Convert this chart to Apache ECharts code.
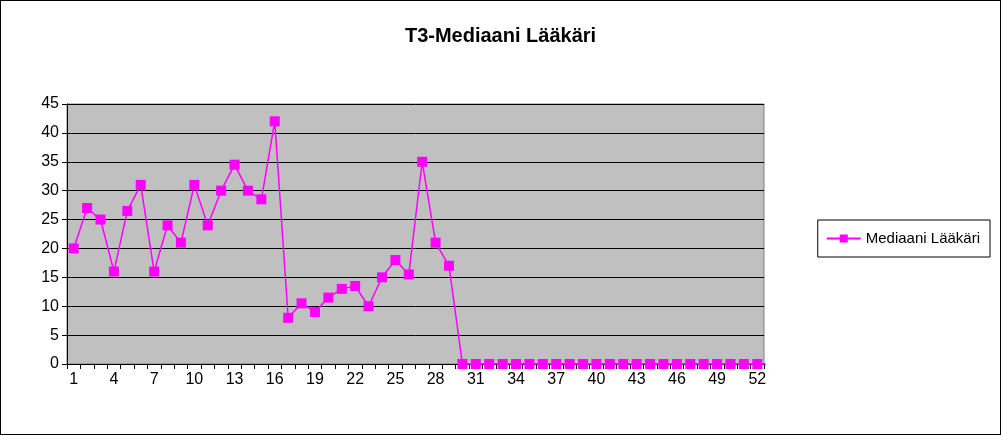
<!DOCTYPE html>
<html><head><meta charset="utf-8">
<script src="https://cdn.jsdelivr.net/npm/echarts@6/dist/echarts.min.js"></script>
<style>html,body{margin:0;padding:0;background:#fff}#c{width:1001px;height:435px;box-sizing:border-box;border:1px solid #000}</style>
</head><body><div id="c"></div>
<script>
const categories = Array.from({length:52},(_,i)=>String(i+1));
const values = [20,27,25,16,26.5,31,16,24,21,31,24,30,34.5,30,28.5,42,8,10.5,9,11.5,13,13.5,10,15,18,15.5,35,21,17,
0,0,0,0,0,0,0,0,0,0,0,0,0,0,0,0,0,0,0,0,0,0,0,0];
const seriesName = 'Mediaani Lääkäri';
const chart = echarts.init(document.getElementById('c'));
chart.setOption({
  animation:false,
  title:{text:'T3-Mediaani Lääkäri',left:'center',top:20,textStyle:{fontFamily:'Liberation Sans',fontSize:20,fontWeight:'bold',color:'#000'}},
  legend:{right:10,top:219,orient:'vertical',padding:[11,10,11,8],borderColor:'#000',borderWidth:1,itemWidth:34,itemHeight:10,
    textStyle:{fontFamily:'Liberation Sans',fontSize:15,color:'#000'},data:[seriesName]},
  grid:{left:66,right:236,top:103,bottom:70,show:true,backgroundColor:'#c0c0c0',borderColor:'#808080',borderWidth:1},
  xAxis:{type:'category',data:categories,boundaryGap:true,splitLine:{show:false},
    axisLine:{lineStyle:{color:'#000'}},axisTick:{show:true,interval:0,lineStyle:{color:'#000'}},
    axisLabel:{interval:2,color:'#000',fontFamily:'Liberation Sans',fontSize:16,margin:8}},
  yAxis:{type:'value',min:0,max:45,interval:5,
    axisLine:{show:true,lineStyle:{color:'#000'}},axisTick:{show:true,lineStyle:{color:'#000'}},
    splitLine:{lineStyle:{color:'#000'}},
    axisLabel:{color:'#000',fontFamily:'Liberation Sans',fontSize:16}},
  series:[{name:seriesName,type:'line',data:values,symbol:'rect',symbolSize:10,showAllSymbol:true,
    lineStyle:{color:'#ff00ff',width:1.5},itemStyle:{color:'#ff00ff'}}]
});
</script></body></html>
